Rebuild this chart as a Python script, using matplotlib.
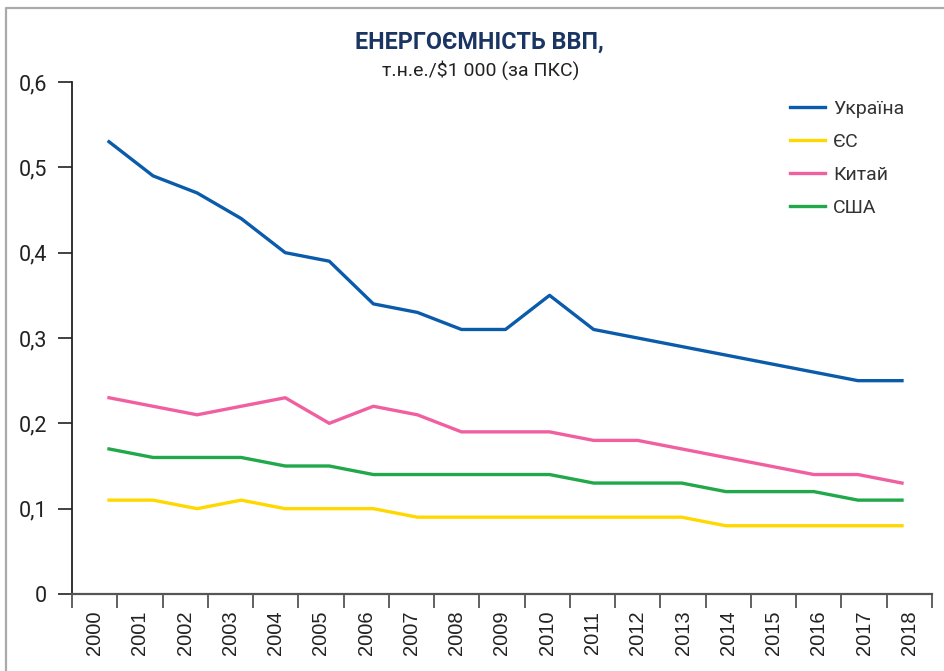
import matplotlib
matplotlib.use("Agg")
import matplotlib.pyplot as plt
from matplotlib.lines import Line2D

years = [str(y) for y in range(2000, 2019)]
ukraine = [0.53, 0.49, 0.47, 0.44, 0.40, 0.39, 0.34, 0.33, 0.31, 0.31, 0.35, 0.31, 0.30, 0.29, 0.28, 0.27, 0.26, 0.25, 0.25]
eu      = [0.11, 0.11, 0.10, 0.11, 0.10, 0.10, 0.10, 0.09, 0.09, 0.09, 0.09, 0.09, 0.09, 0.09, 0.08, 0.08, 0.08, 0.08, 0.08]
china   = [0.23, 0.22, 0.21, 0.22, 0.23, 0.20, 0.22, 0.21, 0.19, 0.19, 0.19, 0.18, 0.18, 0.17, 0.16, 0.15, 0.14, 0.14, 0.13]
usa     = [0.17, 0.16, 0.16, 0.16, 0.15, 0.15, 0.14, 0.14, 0.14, 0.14, 0.14, 0.13, 0.13, 0.13, 0.12, 0.12, 0.12, 0.11, 0.11]
series_names = ["Україна", "ЄС", "Китай", "США"]
series_colors = ["#0a5bab", "#ffd800", "#f060a0", "#21a84a"]
yticks = [0, 0.1, 0.2, 0.3, 0.4, 0.5, 0.6]
ytick_labels = ["0", "0,1", "0,2", "0,3", "0,4", "0,5", "0,6"]
title = "ЕНЕРГОЄМНІСТЬ ВВП,"
subtitle = "т.н.е./$1 000 (за ПКС)"

plt.rcParams['font.family'] = ['Roboto', 'DejaVu Sans']

W, H = 945, 671
fig = plt.figure(figsize=(W / 100, H / 100), dpi=100)
fig.patch.set_facecolor("white")

ax_l, ax_r, ax_b, ax_t = 72, 932, 594, 82
ax = fig.add_axes([ax_l / W, (H - ax_b) / H, (ax_r - ax_l) / W, (ax_b - ax_t) / H])

n = len(years)
ax.set_xlim(-0.5, n - 0.5)
ax.set_ylim(0, 0.6)
ax.set_xticks(range(n))
ax.set_xticklabels(years, rotation=90, family=['Liberation Sans'], fontsize=14.5, color="#222222")
ax.set_xticks([i - 0.5 for i in range(n + 1)], minor=True)
ax.tick_params(axis='x', which='major', length=0, pad=12)
ax.tick_params(axis='x', which='minor', length=10, width=1.3, color="#555555", direction='out')
ax.set_yticks(yticks)
ax.set_yticklabels(ytick_labels, fontsize=15.5, color="#222222")
ax.tick_params(axis='y', length=10, width=1.3, color="#333333", pad=8)
for s in ['top', 'right']:
    ax.spines[s].set_visible(False)
ax.spines['left'].set_color("#222222")
ax.spines['left'].set_linewidth(1.3)
ax.spines['bottom'].set_color("#555555")
ax.spines['bottom'].set_linewidth(1.6)

# data axis (lines are inset from the category grid)
ax2 = ax.twiny()
span = (ax_r - ax_l)
px_per = (902 - 109) / (n - 1)
ax2.set_xlim(-(109 - ax_l) / px_per, (n - 1) + (ax_r - 902) / px_per)
ax2.set_ylim(0, 0.6)
ax2.axis('off')
xs = list(range(n))
handles = []
for vals, name, col in zip([ukraine, eu, china, usa], series_names, series_colors):
    h, = ax2.plot(xs, vals, color=col, lw=2.4, label=name, solid_joinstyle='round')
    handles.append(h)

leg = ax.legend(handles=handles, loc='upper left', bbox_to_anchor=((790 - ax_l) / span, (594 - 100) / 512),
                frameon=False, fontsize=14, handlelength=1.8, handletextpad=0.4, labelspacing=0.77,
                borderaxespad=0, borderpad=0)
for t in leg.get_texts():
    t.set_color("#333333")

fig.text(479 / W, 1 - 42 / H, title, ha='center', va='center', fontsize=16.8, fontweight='bold', color="#1b3563")
fig.text(481 / W, 1 - 70 / H, subtitle, ha='center', va='center', fontsize=14, color="#222222")

# outer frame (top and left)
fig.add_artist(Line2D([6 / W, 6 / W, 1], [0, 1 - 7.5 / H, 1 - 7.5 / H], transform=fig.transFigure,
                      color="#aaaaaa", lw=1.6))

fig.savefig("out.png", dpi=100)
